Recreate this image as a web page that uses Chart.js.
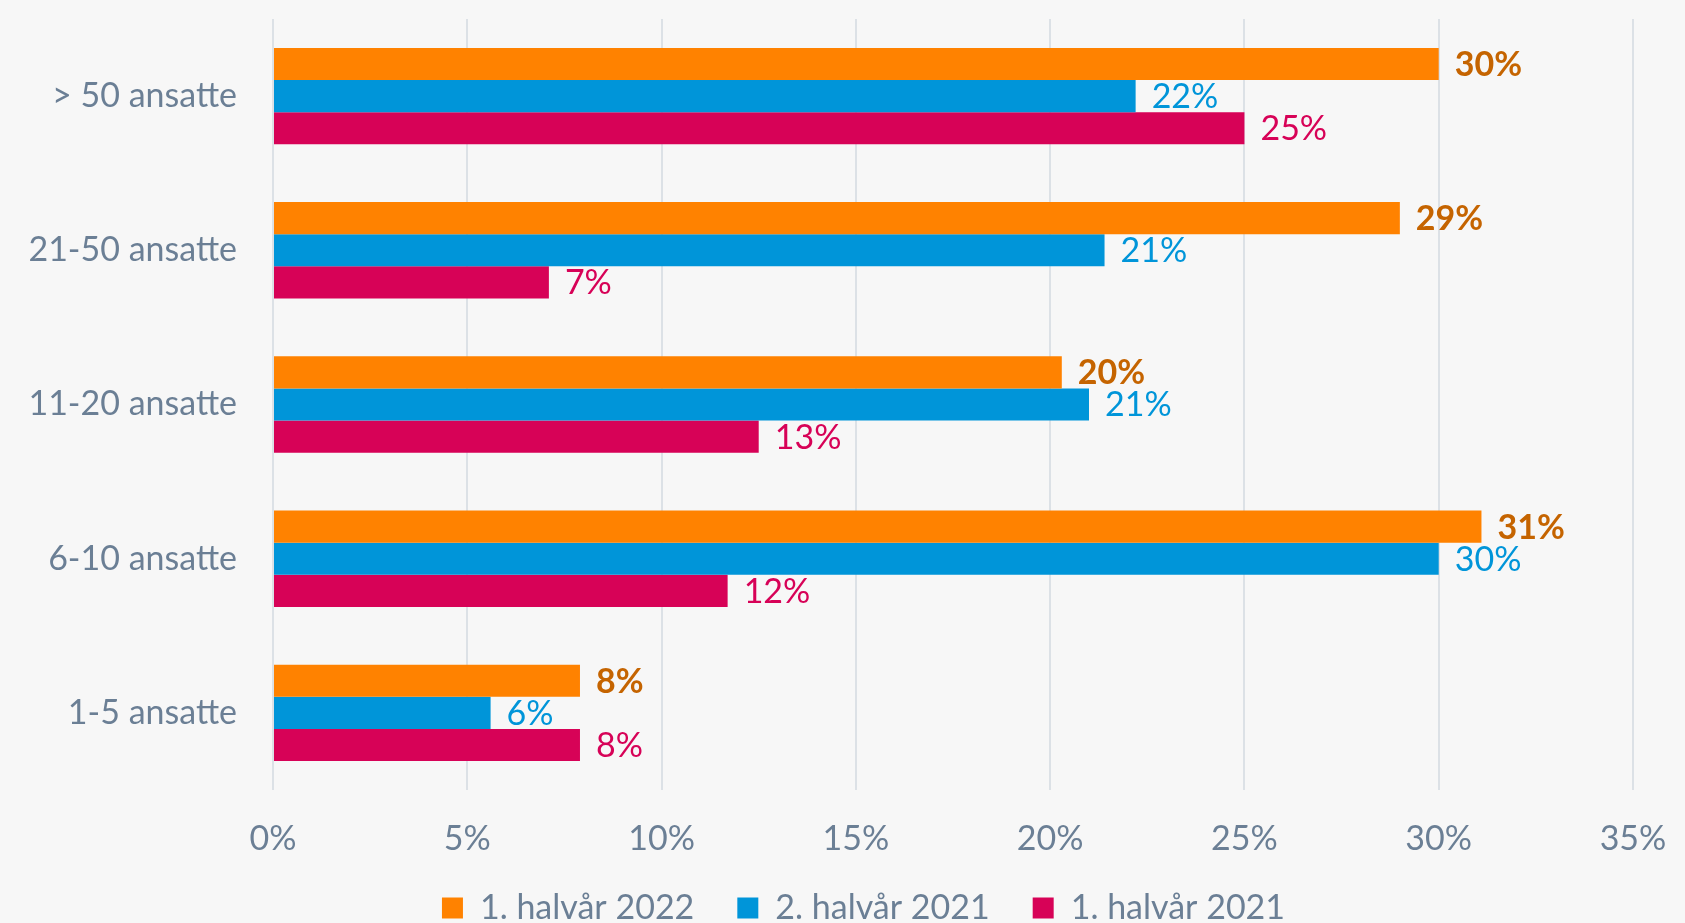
<!DOCTYPE html>
<html>
<head>
<meta charset="utf-8">
<script src="https://cdn.jsdelivr.net/npm/chart.js@4/dist/chart.umd.min.js"></script>
<style>
  html, body { margin: 0; padding: 0; background: #F7F7F7; }
  #wrap { width: 1685px; height: 923px; position: relative; }
</style>
</head>
<body>
<div id="wrap"><canvas id="c" width="1685" height="923"></canvas></div>
<script>
const categories = ['> 50 ansatte', '21-50 ansatte', '11-20 ansatte', '6-10 ansatte', '1-5 ansatte'];
const seriesNames = ['1. halvår 2022', '2. halvår 2021', '1. halvår 2021'];
const h1_2022 = [30.0, 29.0, 20.3, 31.1, 7.9];
const h2_2021 = [22.2, 21.4, 21.0, 30.0, 5.6];
const h1_2021 = [25.0, 7.1, 12.5, 11.7, 7.9];
const xTicks = [0, 5, 10, 15, 20, 25, 30, 35];

const barColors = ['#FF8200', '#0095D9', '#D70257'];
const labelColors = ['#C56400', '#0095D9', '#D70257'];
const textColor = '#6B7F95';
const FONT = 'Lato, "Open Sans", sans-serif';

const valueLabels = {
  id: 'valueLabels',
  afterDatasetsDraw(chart) {
    const ctx = chart.ctx;
    chart.data.datasets.forEach((ds, i) => {
      const meta = chart.getDatasetMeta(i);
      meta.data.forEach((bar, j) => {
        ctx.save();
        ctx.font = (i === 0 ? 'bold ' : '') + '34px ' + FONT;
        ctx.fillStyle = labelColors[i];
        ctx.textAlign = 'left';
        ctx.textBaseline = 'middle';
        ctx.fillText(Math.round(ds.data[j]) + '%', bar.x + 16, bar.y + 1);
        ctx.restore();
      });
    });
  }
};

const legendShift = {
  id: 'legendShift',
  afterLayout(chart) {
    const lg = chart.legend;
    if (lg) { lg.top -= 14; lg.bottom -= 14; lg.left += 47; lg.right += 47; }
  }
};

new Chart(document.getElementById('c'), {
  type: 'bar',
  data: {
    labels: categories,
    datasets: [
      { label: seriesNames[0], data: h1_2022, backgroundColor: barColors[0] },
      { label: seriesNames[1], data: h2_2021, backgroundColor: barColors[1] },
      { label: seriesNames[2], data: h1_2021, backgroundColor: barColors[2] }
    ]
  },
  options: {
    indexAxis: 'y',
    responsive: false,
    animation: false,
    maintainAspectRatio: false,
    categoryPercentage: 0.625,
    barPercentage: 1.0,
    layout: { padding: { top: 19, right: 52, left: 0, bottom: -26 } },
    plugins: {
      legend: {
        position: 'bottom',
        labels: {
          color: textColor,
          font: { family: FONT, size: 34 },
          boxWidth: 21,
          boxHeight: 21,
          padding: 43,
          useBorderRadius: false
        }
      },
      tooltip: { enabled: false }
    },
    scales: {
      x: {
        min: 0, max: 35,
        afterBuildTicks(scale) { scale.ticks = xTicks.map(v => ({ value: v })); },
        afterFit(scale) { scale.height = 72; scale.paddingLeft = 0; scale.paddingRight = 0; },
        grid: { color: '#DCE1E6', lineWidth: 2, drawTicks: false },
        border: { display: false },
        ticks: {
          color: textColor,
          font: { family: FONT, size: 34 },
          padding: 29,
          callback: v => v + '%'
        }
      },
      y: {
        afterFit(scale) { scale.width = 273; scale.paddingTop = 0; scale.paddingBottom = 0; },
        grid: { display: false },
        border: { display: false },
        ticks: {
          color: textColor,
          font: { family: FONT, size: 34 },
          padding: 28
        }
      }
    }
  },
  plugins: [valueLabels, legendShift]
});
</script>
</body>
</html>
